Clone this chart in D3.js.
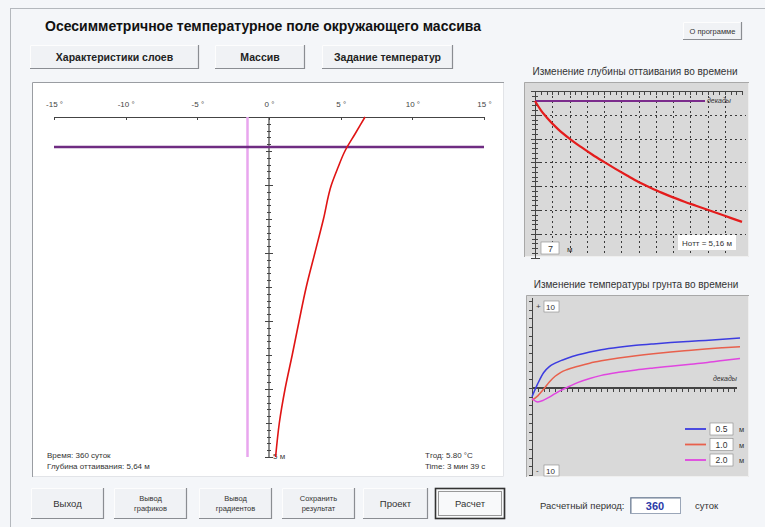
<!DOCTYPE html>
<html lang="ru">
<head>
<meta charset="utf-8">
<title>Осесимметричное температурное поле окружающего массива</title>
<script src="https://cdn.jsdelivr.net/npm/d3@7"></script>
<style>
  html, body { margin: 0; padding: 0; background: #f4f6f9; }
  svg { display: block; font-family: "Liberation Sans", Arial, sans-serif; }
  .axis path, .axis line { stroke: #444; shape-rendering: crispEdges; }
  .axis text { fill: #444; font-size: 8px; }
</style>
</head>
<body>
<svg id="app" width="765" height="527"></svg>
<script>
// ---- Temperature profile with depth (main panel) ----
const profileDepth = [0, 0.25, 0.5, 0.75, 1, 1.5, 2, 2.5, 3, 3.5, 4, 4.5, 5];
const profileTemp  = [6.7, 6.0, 5.3, 4.8, 4.35, 3.8, 3.2, 2.6, 2.1, 1.62, 1.12, 0.72, 0.46];
const tempTicks    = [-15, -10, -5, 0, 5, 10, 15];
const layerDepth   = 0.44;   // purple layer boundary, m
const freezeTemp   = -1.5;   // phase-change temperature, °C
const maxDepth     = 5;

// ---- Thaw depth over time (top right) ----
const thawDecades = [0, 1, 2, 4, 6, 8, 10, 12, 14, 16, 18, 20, 22, 24, 26, 28, 30, 32, 34, 36];
const thawDepth   = [0.42, 0.8, 1.1, 1.6, 2.0, 2.35, 2.68, 2.98, 3.27, 3.55, 3.82, 4.05, 4.27, 4.47, 4.65, 4.82, 4.99, 5.16, 5.33, 5.5];
const thawMaxDepth = 7;

// ---- Soil temperature over time at three depths (bottom right) ----
const soilDecades = [0, 1, 2, 3, 4, 5, 6, 8, 10, 12, 15, 18, 21, 24, 27, 30, 33, 36];
const soilT05 = [-1.0, 0.5, 1.75, 2.45, 2.85, 3.15, 3.4, 3.82, 4.15, 4.4, 4.68, 4.9, 5.07, 5.22, 5.35, 5.47, 5.6, 5.75];
const soilT10 = [-1.4, -0.9, -0.15, 0.7, 1.35, 1.8, 2.1, 2.5, 2.85, 3.12, 3.45, 3.72, 3.95, 4.15, 4.32, 4.48, 4.62, 4.75];
const soilT20 = [-1.2, -1.6, -1.4, -1.05, -0.65, -0.27, 0.05, 0.65, 1.1, 1.45, 1.8, 2.08, 2.3, 2.5, 2.7, 2.9, 3.15, 3.4];
const soilDepthLabels = ["0.5", "1.0", "2.0"];
const soilColors = ["#3c3ce0", "#e8604c", "#e046e0"];

// ---- Interface texts ----
const titleText = "Осесимметричное температурное поле окружающего массива";
const topButtons = ["Характеристики слоев", "Массив", "Задание температур"];
const bottomButtons = [["Выход"], ["Вывод", "графиков"], ["Вывод", "градиентов"], ["Сохранить", "результат"], ["Проект"], ["Расчет"]];
const periodDays = 360;

const svg = d3.select("#app");

// window frame
svg.append("line").attr("x1", 10.5).attr("x2", 10.5).attr("y1", 8).attr("y2", 527).attr("stroke", "#b4b8bd");
svg.append("line").attr("x1", 10).attr("x2", 765).attr("y1", 8.5).attr("y2", 8.5).attr("stroke", "#b4b8bd");

// title
svg.append("text").attr("x", 45).attr("y", 31)
  .attr("font-size", 14).attr("font-weight", "bold").attr("fill", "#111")
  .text(titleText);

function button(g, x, y, w, h, lines, opts = {}) {
  const b = g.append("g");
  b.append("rect").attr("x", x).attr("y", y).attr("width", w).attr("height", h)
    .attr("fill", opts.fill || "#f0f2f5");
  // raised edges
  b.append("path").attr("d", `M${x + 0.5},${y + h}V${y + 0.5}H${x + w}`)
    .attr("fill", "none").attr("stroke", "#fdfdfd");
  b.append("path").attr("d", `M${x},${y + h - 0.5}H${x + w - 0.5}V${y}`)
    .attr("fill", "none").attr("stroke", "#8a8d92").attr("stroke-width", 1.2);
  if (opts.framed) {
    b.append("rect").attr("x", x + 0.5).attr("y", y + 0.5).attr("width", w - 1).attr("height", h - 1)
      .attr("fill", "none").attr("stroke", "#333").attr("stroke-width", 1.6);
    b.append("rect").attr("x", x + 3.5).attr("y", y + 3.5).attr("width", w - 7).attr("height", h - 7)
      .attr("fill", "none").attr("stroke", "#999");
  }
  const fs = opts.fontSize || 9;
  const lh = fs + 3;
  const y0 = y + h / 2 - (lines.length - 1) * lh / 2 + fs * 0.35;
  lines.forEach((t, i) => {
    b.append("text").attr("x", x + w / 2).attr("y", y0 + i * lh)
      .attr("text-anchor", "middle").attr("font-size", fs)
      .attr("font-weight", opts.bold ? "bold" : "normal")
      .attr("fill", opts.color || "#333").text(t);
  });
}

// top buttons
const topX = [30, 215, 322], topW = [169, 90, 131];
topButtons.forEach((t, i) => button(svg, topX[i], 45, topW[i], 24, [t], { bold: true, fontSize: 10.5, color: "#222" }));
button(svg, 683, 22, 59, 18, ["О программе"], { fontSize: 7.5 });

// ---------- main panel ----------
const main = svg.append("g");
main.append("rect").attr("x", 32).attr("y", 82).attr("width", 472).attr("height", 395).attr("fill", "#fff");
main.append("path").attr("d", "M32.5,477V82.5H504").attr("fill", "none").attr("stroke", "#9a9da2");
main.append("path").attr("d", "M33,476.5H503.5V83").attr("fill", "none").attr("stroke", "#e2e4e8");

const xT = d3.scaleLinear().domain([-15, 15]).range([54, 484]);
const yD = d3.scaleLinear().domain([0, maxDepth]).range([117, 457]);

const tAxis = main.append("g").attr("class", "axis").attr("transform", "translate(0,117)")
  .call(d3.axisTop(xT).tickValues(tempTicks).tickSize(-3).tickPadding(10).tickFormat(d => `${d} °`));
tAxis.select(".domain").attr("stroke-width", 1.3);

// depth axis along 0 °C
const depthAxis = main.append("g");
depthAxis.append("line").attr("x1", xT(0)).attr("x2", xT(0)).attr("y1", yD(0)).attr("y2", yD(maxDepth))
  .attr("stroke", "#444").attr("stroke-width", 1.2);
d3.range(0, maxDepth * 10 + 1).forEach(i => {
  const v = i / 10, major = i % 10 === 0, half = i % 5 === 0;
  const len = major ? 4 : (half ? 3 : 2);
  depthAxis.append("line").attr("x1", xT(0) - len).attr("x2", xT(0) + len)
    .attr("y1", Math.round(yD(v)) + 0.5).attr("y2", Math.round(yD(v)) + 0.5)
    .attr("stroke", "#444");
});
depthAxis.append("text").attr("x", xT(0) + 4).attr("y", yD(maxDepth) + 2)
  .attr("font-size", 8).attr("fill", "#444").text(`${maxDepth}   м`);

// freezing temperature line
main.append("line").attr("x1", xT(freezeTemp)).attr("x2", xT(freezeTemp))
  .attr("y1", yD(0)).attr("y2", yD(maxDepth))
  .attr("stroke", "#e8a6ee").attr("stroke-width", 2.5);
// layer boundary
main.append("line").attr("x1", xT(-15)).attr("x2", xT(15))
  .attr("y1", yD(layerDepth)).attr("y2", yD(layerDepth))
  .attr("stroke", "#6f2c82").attr("stroke-width", 2.5);

const profile = profileDepth.map((d, i) => [profileTemp[i], d]);
main.append("path").datum(profile)
  .attr("fill", "none").attr("stroke", "#e01414").attr("stroke-width", 1.6)
  .attr("d", d3.line().x(d => xT(d[0])).y(d => yD(d[1])).curve(d3.curveMonotoneY));

const info = main.append("g").attr("font-size", 8).attr("fill", "#333");
info.append("text").attr("x", 47).attr("y", 458).text("Время: 360 суток");
info.append("text").attr("x", 47).attr("y", 469).text("Глубина оттаивания:  5,64  м");
info.append("text").attr("x", 425).attr("y", 458).text("Tгод: 5.80 °С");
info.append("text").attr("x", 425).attr("y", 469).text("Time:  3  мин  39  с");

// ---------- thaw depth chart ----------
const c1 = svg.append("g");
c1.append("text").attr("x", 635).attr("y", 75).attr("text-anchor", "middle")
  .attr("font-size", 10).attr("fill", "#333").text("Изменение глубины оттаивания во времени");
c1.append("rect").attr("x", 524).attr("y", 82).attr("width", 225).attr("height", 175).attr("fill", "#d9d9d9");
c1.append("path").attr("d", "M524.5,257V82.5H749").attr("fill", "none").attr("stroke", "#a8a8a8");
c1.append("path").attr("d", "M525,256.5H748.5V83").attr("fill", "none").attr("stroke", "#efefef");

const xDec = d3.scaleLinear().domain([0, 36]).range([535, 742]);
const yDep = d3.scaleLinear().domain([0, thawMaxDepth]).range([91, 257.6]);

// dashed grid
d3.range(3, 36, 3).forEach(t => {
  c1.append("line").attr("x1", Math.round(xDec(t)) + 0.5).attr("x2", Math.round(xDec(t)) + 0.5)
    .attr("y1", yDep(0)).attr("y2", 255).attr("stroke", "#3a3a3a").attr("stroke-dasharray", "2,3");
});
d3.range(1, thawMaxDepth).forEach(d => {
  c1.append("line").attr("x1", xDec(0)).attr("x2", 746)
    .attr("y1", Math.round(yDep(d)) + 0.5).attr("y2", Math.round(yDep(d)) + 0.5)
    .attr("stroke", "#3a3a3a").attr("stroke-dasharray", "2,3");
});
// axes
const c1x = c1.append("g").attr("class", "axis").attr("transform", `translate(0,${yDep(0)})`)
  .call(d3.axisBottom(xDec).ticks(36).tickSize(4).tickFormat(""));
c1x.select(".domain").remove();
c1.append("line").attr("x1", xDec(0)).attr("x2", xDec(36)).attr("y1", yDep(0) + 0.5).attr("y2", yDep(0) + 0.5).attr("stroke", "#444");
const c1y = c1.append("g").attr("class", "axis").attr("transform", `translate(${xDec(0)},0)`)
  .call(d3.axisRight(yDep).ticks(35).tickSize(3).tickFormat(""));
c1y.selectAll(".tick line").attr("x1", -3);
c1y.selectAll(".tick").filter(d => Number.isInteger(d)).select("line").attr("x1", -4).attr("x2", 5);

c1.append("line").attr("x1", xDec(0)).attr("x2", 705).attr("y1", yDep(0.42)).attr("y2", yDep(0.42))
  .attr("stroke", "#7b2c8c").attr("stroke-width", 2);
c1.append("text").attr("x", 707).attr("y", 103).attr("font-size", 7).attr("font-style", "italic")
  .attr("fill", "#333").text("декады");

c1.append("path").datum(thawDecades.map((t, i) => [t, thawDepth[i]]))
  .attr("fill", "none").attr("stroke", "#e41c1c").attr("stroke-width", 2.2)
  .attr("d", d3.line().x(d => xDec(d[0])).y(d => yDep(d[1])).curve(d3.curveMonotoneX));

c1.append("rect").attr("x", 678).attr("y", 235).attr("width", 58).attr("height", 15).attr("fill", "#fff");
c1.append("text").attr("x", 707).attr("y", 245.5).attr("text-anchor", "middle").attr("font-size", 8)
  .attr("fill", "#333").text("Нотт = 5,16 м");
c1.append("rect").attr("x", 541).attr("y", 242).attr("width", 18).attr("height", 12).attr("fill", "#fff")
  .attr("stroke", "#888").attr("stroke-width", 0.6);
c1.append("text").attr("x", 548).attr("y", 251.5).attr("font-size", 9).attr("fill", "#333").text(thawMaxDepth);
c1.append("text").attr("x", 567).attr("y", 252).attr("font-size", 8).attr("fill", "#333").text("м");

// ---------- soil temperature chart ----------
const c2 = svg.append("g");
c2.append("text").attr("x", 636).attr("y", 288).attr("text-anchor", "middle")
  .attr("font-size", 10).attr("fill", "#333").text("Изменение температуры грунта во времени");
c2.append("rect").attr("x", 526).attr("y", 295).attr("width", 223).attr("height", 182).attr("fill", "#d9d9d9");
c2.append("path").attr("d", "M526.5,477V295.5H749").attr("fill", "none").attr("stroke", "#a8a8a8");
c2.append("path").attr("d", "M527,476.5H748.5V296").attr("fill", "none").attr("stroke", "#efefef");

const xDec2 = d3.scaleLinear().domain([0, 36]).range([532, 740]);
const yT = d3.scaleLinear().domain([-10, 10]).range([475, 301]);

const c2y = c2.append("g").attr("class", "axis").attr("transform", `translate(${xDec2(0)},0)`)
  .call(d3.axisLeft(yT).ticks(20).tickSize(3).tickFormat(""));
c2y.select(".domain").attr("d", `M0,298V476`);
const c2x = c2.append("g").attr("class", "axis").attr("transform", `translate(0,${yT(0)})`)
  .call(d3.axisBottom(xDec2).ticks(36).tickSize(4).tickFormat(""));
c2x.select(".domain").attr("d", `M${xDec2(0)},0H737`).attr("stroke-width", 1.2);
c2x.selectAll(".tick").filter(d => d > 35).remove();

c2.append("text").attr("x", 713).attr("y", 381).attr("font-size", 7).attr("font-style", "italic")
  .attr("fill", "#333").text("декады");

[soilT05, soilT10, soilT20].forEach((s, k) => {
  c2.append("path").datum(soilDecades.map((t, i) => [t, s[i]]))
    .attr("fill", "none").attr("stroke", soilColors[k]).attr("stroke-width", 1.5)
    .attr("d", d3.line().x(d => xDec2(d[0])).y(d => yT(d[1])).curve(d3.curveMonotoneX));
});

// scale limit boxes
[["+", 10, 301], ["-", -10, 465]].forEach(([sign, v, y]) => {
  c2.append("text").attr("x", 536).attr("y", y + 8).attr("font-size", 8).attr("fill", "#333").text(sign);
  c2.append("rect").attr("x", 544).attr("y", y).attr("width", 15).attr("height", 11).attr("fill", "#fff")
    .attr("stroke", "#888").attr("stroke-width", 0.6);
  c2.append("text").attr("x", 546).attr("y", y + 8.5).attr("font-size", 8).attr("fill", "#333").text(Math.abs(v));
});

// legend
soilDepthLabels.forEach((lab, k) => {
  const y = 429 + k * 15.5;
  c2.append("line").attr("x1", 685).attr("x2", 706).attr("y1", y).attr("y2", y)
    .attr("stroke", soilColors[k]).attr("stroke-width", 1.8);
  c2.append("rect").attr("x", 710).attr("y", y - 6).attr("width", 23).attr("height", 12).attr("fill", "#fff")
    .attr("stroke", "#888").attr("stroke-width", 0.6);
  c2.append("text").attr("x", 721.5).attr("y", y + 3).attr("text-anchor", "middle").attr("font-size", 8.5)
    .attr("fill", "#333").text(lab);
  c2.append("text").attr("x", 739).attr("y", y + 3).attr("font-size", 7.5).attr("fill", "#333").text("м");
});

// ---------- bottom row ----------
const botX = [31, 114, 199, 282, 363, 435], botW = [73, 73, 73, 73, 65, 70];
bottomButtons.forEach((lines, i) => {
  const two = lines.length > 1;
  button(svg, botX[i], 488, botW[i], 31, lines, {
    fontSize: two ? 7.5 : 9.5, framed: i === bottomButtons.length - 1,
    fill: i === bottomButtons.length - 1 ? "#f8f9fa" : "#f0f2f5"
  });
});

svg.append("text").attr("x", 540).attr("y", 509).attr("font-size", 9.5).attr("fill", "#333").text("Расчетный период:");
svg.append("rect").attr("x", 630.5).attr("y", 497.5).attr("width", 50).attr("height", 16).attr("fill", "#fff")
  .attr("stroke", "#9aa6b8");
svg.append("path").attr("d", "M631,513V498H680").attr("fill", "none").attr("stroke", "#6f7e95");
svg.append("text").attr("x", 655).attr("y", 509.5).attr("text-anchor", "middle").attr("font-size", 11)
  .attr("font-weight", "bold").attr("fill", "#2a3aa8").text(periodDays);
svg.append("text").attr("x", 695).attr("y", 509).attr("font-size", 9.5).attr("fill", "#333").text("суток");
</script>
</body>
</html>
